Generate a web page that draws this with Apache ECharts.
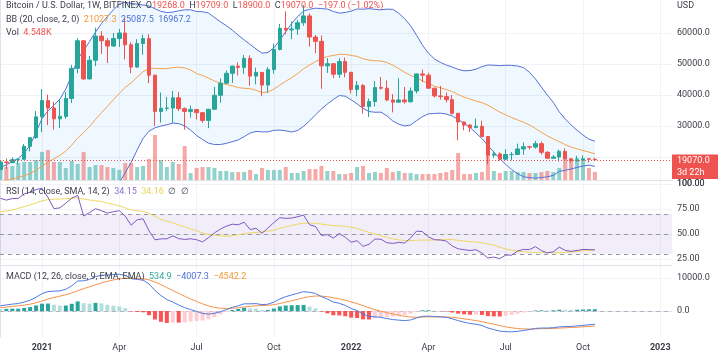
<!DOCTYPE html>
<html><head><meta charset="utf-8">
<script src="https://cdn.jsdelivr.net/npm/echarts@6/dist/echarts.min.js"></script>
<style>html,body{margin:0;padding:0;background:#fff}#c{width:718px;height:359px}</style>
</head><body><div id="c"></div><script>
// weekly bars, index 0 = week of 16 Nov 2020, index 100 = week of 17 Oct 2022
const openP = [15960,18400,18180,19150,19270,23450,26250,32950,38200,35800,
 32300,33100,38900,48600,57500,45200,51200,59000,57500,55800,
 58200,60000,56200,49000,56600,58200,46400,34700,35700,35800,
 39100,35600,34700,35300,34300,31800,35400,39900,43800,47000,
 49300,48900,51800,46100,47300,43200,48200,54700,61500,61000,
 61300,63300,65500,58700,57300,49400,50100,46700,50800,47300,
 41800,43100,36300,37900,42400,42200,38400,37700,38400,37800,
 41300,46800,46400,42200,39700,39500,38500,34100,31300,30300,
 29500,29900,26600,20600,21000,19300,20800,20800,22600,23300,
 23200,24300,21500,19600,20000,21800,19400,18800,19050,19420,
 19268];
const highP = [18800,19480,19900,19420,24200,24800,34800,41900,40100,37800,
 38500,40900,49700,58300,57600,52600,61700,60600,58400,60000,
 61300,64900,57000,58000,59500,59600,46500,40800,39400,41300,
 41000,36000,36600,35300,34500,35500,42600,45300,47900,49500,
 50500,52900,52800,48800,47400,49000,56600,62900,67000,63700,
 64200,69000,66300,59400,59200,51900,50200,51900,52100,47500,
 44500,43500,38900,44500,45800,44700,40300,45400,42600,42400,
 47000,48200,47200,42400,42900,40800,40000,34200,31400,30600,
 32400,31700,26800,22000,21500,22500,21600,24300,24700,23600,
 25200,25000,21900,20600,22400,22800,19700,20400,20500,19600,
 19709];
const lowP = [15800,16200,18100,17600,19000,21800,25900,28000,30300,28800,
 29300,32300,37400,47000,44900,45000,49300,53300,50300,55500,
 55500,51500,47000,48800,53000,43800,30000,31100,34800,31000,
 34800,28800,32700,32100,31000,29300,35200,37500,43600,43900,
 46300,46800,43000,43400,39600,40800,46900,54400,59600,58000,
 59400,62300,55600,53500,42000,47100,45500,45500,45700,40500,
 39600,34000,32900,36300,41700,38000,34400,37500,37200,37600,
 40500,44200,42100,39200,38500,37600,33700,25400,28600,28000,
 29300,26500,17600,19700,18800,19000,18900,20700,20700,22400,
 22700,20800,19500,19500,18500,19300,18200,18500,19000,18200,
 18900];
const closeP = [18400,18180,19150,19270,23450,26250,32950,38200,35800,32300,
 33100,38900,48600,57500,45200,51200,59000,57500,55800,58200,
 60000,56200,49000,56600,58200,46400,34700,35700,35800,39100,
 35600,34700,35300,34300,31800,35400,39900,43800,47000,49300,
 48900,51800,46100,47300,43200,48200,54700,61500,61000,61300,
 63300,65500,58700,57300,49400,50100,46700,50800,47300,41800,
 43100,36300,37900,42400,42200,38400,37700,38400,37800,41300,
 46800,46400,42200,39700,39500,38500,34100,31300,30300,29500,
 29900,26600,20600,21000,19300,20800,20800,22600,23300,23200,
 24300,21500,19600,20000,21800,19400,18800,19050,19420,19267,
 19070];
// volume, thousands
const volK = [7.2,7.2,7.8,9.4,10,10,11.1,15.6,16.7,10,
 10,6.7,10.6,8.9,15.6,7.2,8.3,8.3,7.2,6.7,
 5.6,9.4,9.4,7.2,7.8,11.7,25,11.1,7.2,10,
 8.9,18.9,3.9,6.7,7.2,7.2,6.7,5,5,4.4,
 4.4,4.4,5.6,3.3,6.7,5.6,5.6,5.6,7.2,3.9,
 3.9,5,6.1,6.1,7.8,5,5,3.3,3.3,3.9,
 7.2,7.8,3.9,4.4,3.9,6.7,4.4,5,3.9,3.9,
 3.3,3.3,3.3,3.3,3.9,4.4,5.6,15,3.3,3.3,
 3.9,4.4,16.7,5,3.9,5,5,4.4,4.4,3.9,
 3.9,4.4,5,4.4,6.7,12.2,11.7,12.2,11.1,6.7,
 4.548];
const bbBasis = [11950,12400,12900,13370,13980,14710,15760,17090,18300,19400,
 20540,21930,23820,26160,27850,29840,32140,34320,36340,38450,
 40530,42430,43920,45790,47530,48530,48620,48500,48500,48840,
 48960,48750,48090,46930,46260,45470,44510,43830,43390,42940,
 42390,42170,42020,41560,40810,40900,41900,43190,44450,45560,
 46940,48480,49650,50800,51680,52420,52760,53110,53120,52750,
 52460,51680,51270,51030,50980,50490,49640,48480,47320,46320,
 45500,44540,43720,42840,42340,41760,41130,40160,39310,38690,
 38030,37550,36680,35610,34470,33590,32740,31950,31230,30320,
 29200,27950,26820,25840,24950,24000,23230,22620,22090,21570,
 21027.3];
const bbUpper = [16520,17500,18500,19530,21280,23800,28060,32370,34900,36700,
 38680,41930,46420,51550,54350,57240,60320,63020,65340,67450,
 69370,69930,69520,69330,69030,68730,67820,67000,66600,66740,
 67160,67470,67490,66930,66860,66470,65010,63630,62390,60940,
 59290,57770,56320,54860,53510,53700,55200,57690,60450,63060,
 65340,67080,67650,68000,67880,67720,66960,66410,66620,67050,
 67760,67680,67870,67630,67480,67690,67640,66380,64620,62320,
 59300,56040,53520,51640,50540,49660,49030,48260,47810,47890,
 48330,49150,49680,49610,49470,49590,49540,49350,48830,47320,
 45200,42550,40020,37640,34550,32300,30330,28620,27090,25770,
 25087.5];
const bbLower = [7380,7300,7300,7210,6680,5620,3460,1810,1700,2100,
 2400,1930,1220,770,1350,2440,3960,5620,7340,9450,
 11690,14930,18320,22250,26030,28330,29420,30000,30400,30940,
 30760,30030,28690,26930,25660,24470,24010,24030,24390,24940,
 25490,26570,27720,28260,28110,28100,28600,28690,28450,28060,
 28540,29880,31650,33600,35480,37120,38560,39810,39620,38450,
 37160,35680,34670,34430,34480,33290,31640,30580,30020,30320,
 31700,33040,33920,34040,34140,33860,33230,32060,30810,29490,
 27730,25950,23680,21610,19470,17590,15940,14550,13630,13320,
 13200,13350,13620,14040,15350,15700,16130,16620,17090,17370,
 16967.2];
const rsi = [85.7,83.9,85.4,85.6,90.1,91.9,94.5,95.7,86.6,75.4,
 76.1,80.8,85.8,88.7,68.0,71.5,75.3,73.3,70.9,72.3,
 73.3,67.8,58.8,64.2,65.2,53.1,44.2,45.1,45.2,48.2,
 45.3,44.6,45.2,44.3,42.1,46.3,51.1,54.9,57.8,59.8,
 59.2,61.8,54.5,55.7,50.8,55.9,61.5,66.3,65.6,65.9,
 67.3,68.9,59.3,57.5,48.6,49.4,45.9,50.5,46.8,41.8,
 43.3,37.6,39.7,45.0,44.8,41.3,40.6,41.6,41.0,46.0,
 52.9,52.4,47.1,44.3,44.0,42.9,38.0,35.2,34.3,33.5,
 34.3,31.0,26.0,26.9,25.5,28.9,28.9,33.0,34.6,34.5,
 37.3,33.4,31.1,32.2,36.9,33.6,32.7,33.5,34.6,34.4,
 34.15];
const rsiMA = [72.1,73.0,74.0,75.6,77.5,79.0,81.1,83.2,84.4,84.8,
 85.0,85.3,85.7,86.2,84.9,84.0,83.3,82.4,81.0,79.6,
 78.1,76.1,74.1,73.3,72.6,70.6,67.6,64.5,62.9,61.2,
 59.1,57.0,55.2,53.2,51.0,49.4,48.9,48.2,47.7,48.2,
 49.2,50.4,51.1,51.6,52.0,52.8,54.0,55.6,57.2,58.6,
 59.8,60.8,60.9,60.7,60.0,59.1,58.5,58.1,57.8,56.8,
 55.5,53.5,51.6,50.1,48.5,46.5,45.2,44.1,43.5,43.3,
 43.8,43.9,43.9,44.1,44.2,44.5,44.4,43.7,43.0,42.4,
 42.0,41.2,40.1,38.8,36.8,35.1,33.8,33.0,32.4,31.8,
 31.7,31.6,31.4,31.3,31.4,31.6,32.1,32.6,33.3,33.7,
 34.16];
const macdLine = [1595,1838,2085,2264,2712,3255,4177,5270,5876,6004,
 6100,6568,7633,9089,9147,9566,10407,10828,10899,11022,
 11135,10795,9831,9569,9383,8190,6229,4702,3459,2709,
 1812,1016,429,-115,-740,-934,-716,-226,415,1096,
 1585,2181,2169,2231,1927,2065,2668,3652,4342,4857,
 5364,5875,5666,5327,4371,3628,2733,2328,1705,759,
 113,-936,-1620,-1779,-1899,-2274,-2598,-2767,-2915,-2719,
 -2096,-1616,-1557,-1691,-1793,-1932,-2370,-2909,-3378,-3771,
 -4004,-4404,-5145,-5635,-6091,-6259,-6319,-6151,-5893,-5632,
 -5275,-5159,-5161,-5071,-4799,-4723,-4658,-4530,-4360,-4180,
 -4007.3];
const macdSignal = [1039,1199,1376,1554,1786,2080,2499,3053,3618,4095,
 4496,4910,5455,6182,6775,7333,7948,8524,8999,9404,
 9750,9959,9933,9860,9765,9450,8806,7985,7080,6206,
 5327,4465,3658,2903,2174,1552,1098,833,749,818,
 971,1213,1404,1569,1641,1726,1914,2262,2678,3114,
 3564,4026,4354,4549,4513,4336,4015,3678,3283,2778,
 2245,1609,963,415,-48,-493,-914,-1285,-1611,-1833,
 -1886,-1832,-1777,-1760,-1767,-1800,-1914,-2113,-2366,-2647,
 -2918,-3215,-3601,-4008,-4425,-4792,-5097,-5308,-5425,-5466,
 -5428,-5374,-5331,-5279,-5183,-5091,-5004,-4909,-4799,-4675,
 -4542.2];
const macdHist = [556,639,709,710,926,1175,1678,2217,2258,1909,
 1604,1658,2178,2907,2372,2233,2459,2304,1900,1618,
 1385,836,-102,-291,-382,-1260,-2577,-3283,-3621,-3497,
 -3515,-3449,-3229,-3018,-2914,-2486,-1814,-1059,-334,278,
 614,968,765,662,286,339,754,1390,1664,1743,
 1800,1849,1312,778,-142,-708,-1282,-1350,-1578,-2019,
 -2132,-2545,-2583,-2194,-1851,-1781,-1684,-1482,-1304,-886,
 -210,216,220,69,-26,-132,-456,-796,-1012,-1124,
 -1086,-1189,-1544,-1627,-1666,-1467,-1222,-843,-468,-166,
 153,215,170,208,384,368,346,379,439,495,
 534.9];
const tickWeeks = [7,20,33,46,59,72,85,98,111];
const tickLabels = ['2021','Apr','Jul','Oct','2022','Apr','Jul','Oct','2023'];
const priceTicks = [30000,40000,50000,60000];
const priceGrid = [20000,30000,40000,50000,60000];
const rsiTicks = [25,50,75,100];
const rsiTopTick = 100;
const macdTicks = [0,10000];

const chart = echarts.init(document.getElementById('c'));
const FONT = 'Roboto, "Noto Sans", sans-serif';
const TXT = '#3b3e47';
const GRID_C = '#f0f2f7';
const SEP_C = '#dfe2ea';
const UP = '#26a69a', DN = '#ef5350';
const XMIN = -0.067, XMAX = 112.97;
const RSI_MIN = 19, RSI_MAX = 103;
const G = [{left: 0, top: 0, width: 672, height: 180}, {left: 0, top: 181, width: 672, height: 84}, {left: 0, top: 266, width: 672, height: 71}];
const G1_TOP = 181, G1_H = 84;
const last = closeP.length - 1;

const pairs = arr => arr.map((v, i) => [i, v]);
const candleData = openP.map((o, i) => [i, o, closeP[i], lowP[i], highP[i]]);
const volData = volK.map((v, i) => ({value: [i, v], itemStyle: {color: closeP[i] >= openP[i] ? 'rgba(38,166,154,0.5)' : 'rgba(239,83,80,0.5)'}}));
const histData = macdHist.map((h, i) => {
  const p = i > 0 ? macdHist[i - 1] : h;
  const c = h >= 0 ? (p < h ? '#26a69a' : '#b2dfdb') : (p < h ? '#ffcdd2' : '#ff5252');
  return {value: [i, h], itemStyle: {color: c}};
});
const vLines = tickWeeks.map(w => ({xAxis: w}));
const gridMarks = ys => ({silent: true, symbol: 'none', z: 0, label: {show: false}, emphasis: {disabled: true},
  lineStyle: {color: GRID_C, width: 1, type: 'solid'}, data: vLines.concat(ys.map(y => ({yAxis: y})))});

const xAx = (gi, show) => ({type: 'value', gridIndex: gi, min: XMIN, max: XMAX,
  axisLine: {show: true, lineStyle: {color: SEP_C}}, axisTick: {show: false}, splitLine: {show: false},
  axisLabel: show ? {show: true, customValues: tickWeeks, margin: 6, color: TXT, fontSize: 9, fontFamily: FONT,
    formatter: v => { const s = tickLabels[tickWeeks.indexOf(Math.round(v))] || ''; return /^\d{4}$/.test(s) ? '{y|' + s + '}' : s; },
    rich: {y: {fontWeight: 'bold', fontSize: 9, fontFamily: FONT, color: TXT}}} : {show: false}});
const yAx = (gi, min, max, ticks, dec) => ({type: 'value', gridIndex: gi, position: 'right', min: min, max: max,
  axisLine: {show: true, lineStyle: {color: SEP_C}}, axisTick: {show: false}, splitLine: {show: false},
  axisLabel: {customValues: ticks, margin: 5, color: TXT, fontSize: 9, fontFamily: FONT, formatter: v => v.toFixed(dec)}});

const lineS = (xi, yi, data, color, z, extra) => Object.assign({type: 'line', xAxisIndex: xi, yAxisIndex: yi, data: pairs(data),
  showSymbol: false, symbol: 'none', smooth: false, lineStyle: {color: color, width: 1}, z: z, silent: true}, extra || {});

const option = {
  animation: false,
  backgroundColor: '#ffffff',
  textStyle: {fontFamily: FONT},
  grid: G,
  xAxis: [xAx(0, false), xAx(1, false), xAx(2, true)],
  yAxis: [
    yAx(0, 12581, 70645, priceTicks, 1),
    {type: 'value', gridIndex: 0, min: 0, max: 100, show: false},
    yAx(1, RSI_MIN, RSI_MAX, rsiTicks, 2),
    yAx(2, -7879, 13636, macdTicks, 1)
  ],
  series: [
    {type: 'custom', xAxisIndex: 0, yAxisIndex: 0, z: 1, silent: true, clip: true, data: [[0, 30000]],
      renderItem: function (params, api) {
        if (params.dataIndex !== 0) return;
        const cs = params.coordSys;
        const cl = p => [p[0], Math.max(cs.y, Math.min(cs.y + cs.height, p[1]))];
        const pts = [];
        for (let i = 0; i < bbUpper.length; i++) pts.push(cl(api.coord([i, bbUpper[i]])));
        for (let i = bbLower.length - 1; i >= 0; i--) pts.push(cl(api.coord([i, bbLower[i]])));
        return {type: 'polygon', shape: {points: pts}, style: {fill: 'rgba(33,150,243,0.07)'}};
      }},
    lineS(0, 0, bbBasis, '#f5a04e', 3, {markLine: gridMarks(priceGrid)}),
    lineS(0, 0, bbUpper, '#5470d6', 3),
    lineS(0, 0, bbLower, '#5470d6', 3),
    {type: 'bar', xAxisIndex: 0, yAxisIndex: 1, data: volData, barWidth: 4, z: 2, silent: true},
    {type: 'candlestick', xAxisIndex: 0, yAxisIndex: 0, data: candleData, barWidth: 4, z: 4, silent: true,
      itemStyle: {color: UP, color0: DN, borderColor: UP, borderColor0: DN, borderWidth: 1},
      markLine: {silent: true, symbol: 'none', z: 5, label: {show: false}, emphasis: {disabled: true},
        lineStyle: {color: DN, width: 1, type: [1, 2]}, data: [{yAxis: closeP[last]}]}},
    lineS(1, 2, rsi, '#7e57c2', 4, {
      markArea: {silent: true, z: 1, label: {show: false}, itemStyle: {color: 'rgba(126,87,194,0.1)'}, data: [[{yAxis: 30}, {yAxis: 70}]]},
      markLine: gridMarks(rsiTicks)}),
    lineS(1, 2, rsiMA, '#ecd860', 3, {
      markLine: {silent: true, symbol: 'none', z: 2, label: {show: false}, emphasis: {disabled: true},
        lineStyle: {color: '#9598a1', width: 1, type: [4, 4]}, data: [{yAxis: 70}, {yAxis: 50}, {yAxis: 30}]}}),
    {type: 'bar', xAxisIndex: 2, yAxisIndex: 3, data: histData, barWidth: 4, z: 2, silent: true,
      markLine: gridMarks(macdTicks)},
    lineS(2, 3, macdLine, '#4f7ae0', 4, {
      markLine: {silent: true, symbol: 'none', z: 1, label: {show: false}, emphasis: {disabled: true},
        lineStyle: {color: '#b2b5be', width: 1, type: [4, 4]}, data: [{yAxis: 0}]}}),
    lineS(2, 3, macdSignal, '#f5924a', 3)
  ]
};
chart.setOption(option);

// legends / labels (text)
const f1 = v => v.toFixed(1);
const chg = closeP[last] - closeP[last - 1];
const minus = s => s.replace('-', '\u2212');
const pct = chg / closeP[last - 1] * 100;
const valCol = chg < 0 ? DN : UP;
const base = {fontSize: 9, fontFamily: FONT, fill: TXT};
const rich = {
  t: {fontSize: 9, fontFamily: FONT, fill: TXT},
  r: {fontSize: 9, fontFamily: FONT, fill: valCol},
  o: {fontSize: 9, fontFamily: FONT, fill: '#f39a3a'},
  b: {fontSize: 9, fontFamily: FONT, fill: '#4c6fd8'},
  p: {fontSize: 9, fontFamily: FONT, fill: '#8a72c9'},
  y: {fontSize: 9, fontFamily: FONT, fill: '#e9d35a'},
  g: {fontSize: 9, fontFamily: FONT, fill: '#2fa896'}
};
const txt = (x, y, s) => ({type: 'text', x: x, y: y, silent: true, z: 100,
  style: Object.assign({text: s, rich: rich, verticalAlign: 'middle', align: 'left'}, base)});
const row1 = '{t|Bitcoin / U.S. Dollar, 1W, BITFINEX}  {t|O}{r|' + f1(openP[last]) + '}  {t|H}{r|' + f1(highP[last]) +
  '}  {t|L}{r|' + f1(lowP[last]) + '}  {t|C}{r|' + f1(closeP[last]) + '}  {r|' + minus(f1(chg)) + ' (' + minus(pct.toFixed(2)) + '%)}';
const row2 = '{t|BB (20, close, 2, 0)}  {o|' + f1(bbBasis[last]) + '}  {b|' + f1(bbUpper[last]) + '}  {b|' + f1(bbLower[last]) + '}';
const row3 = '{t|Vol}  {r|' + volK[last].toFixed(3) + 'K}';
const row4 = '{t|RSI (14, close, SMA, 14, 2)}  {p|' + rsi[last].toFixed(2) + '}  {y|' + rsiMA[last].toFixed(2) + '}  {t|\u2205}  {t|\u2205}';
const row5 = '{t|MACD (12, 26, close, 9, EMA, EMA)}  {g|' + f1(macdHist[last]) + '}  {b|' + minus(f1(macdLine[last])) + '}  {o|' + minus(f1(macdSignal[last])) + '}';

const py = chart.convertToPixel({xAxisIndex: 0, yAxisIndex: 0}, [0, closeP[last]])[1];
const ry = G1_TOP + (RSI_MAX - rsiTopTick) / (RSI_MAX - RSI_MIN) * G1_H;
chart.setOption({graphic: {elements: [
  txt(6, 6, row1), txt(6, 19.5, row2), txt(6, 33, row3), txt(6, 192, row4), txt(6, 277, row5),
  {type: 'text', x: 677, y: 6, silent: true, z: 100, style: {text: 'USD', verticalAlign: 'middle', fontSize: 9, fontFamily: FONT, fill: TXT}},
  {type: 'text', x: 677, y: ry, silent: true, zlevel: 1, z: 200, style: {text: rsiTopTick.toFixed(2), verticalAlign: 'middle', fontSize: 9, fontFamily: FONT, fill: TXT}},
  {type: 'rect', x: 672, y: py - 5.5, silent: true, z: 100, shape: {width: 46, height: 24.5}, style: {fill: DN}},
  {type: 'text', x: 677, y: py + 1, silent: true, z: 101, style: {text: f1(closeP[last]), fill: '#fff', fontSize: 9, fontFamily: FONT, verticalAlign: 'middle'}},
  {type: 'text', x: 677, y: py + 13, silent: true, z: 101, style: {text: '3d 22h', fill: '#fff', fontSize: 9, fontFamily: FONT, verticalAlign: 'middle'}}
]}});
</script></body></html>
